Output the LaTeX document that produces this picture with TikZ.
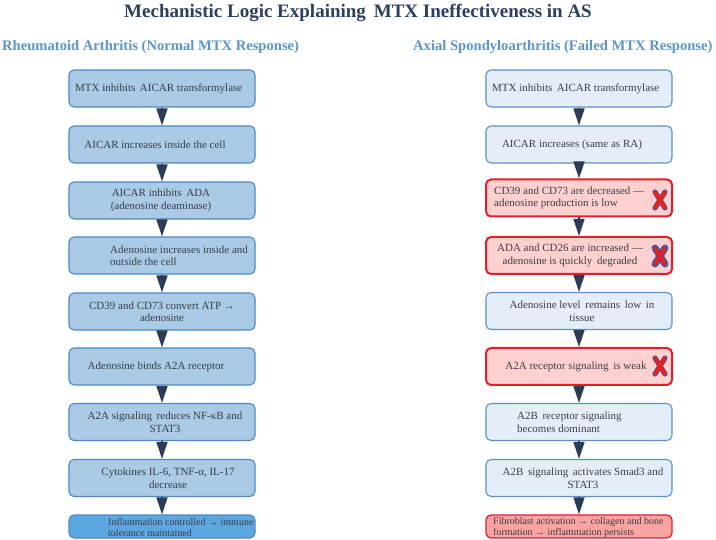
\documentclass[tikz,border=0pt]{standalone}
\usepackage{fontspec}
\setmainfont{Liberation Serif}
\usetikzlibrary{arrows.meta}
\definecolor{titlec}{HTML}{2B3F5E}
\definecolor{subc}{HTML}{5B95CB}
\definecolor{txt}{HTML}{3A3F47}
\definecolor{lfill}{HTML}{AACAE5}
\definecolor{lline}{HTML}{4F89C0}
\definecolor{lastfill}{HTML}{5DA7E0}
\definecolor{rfill}{HTML}{E4EEF8}
\definecolor{rline}{HTML}{5B93C9}
\definecolor{redfill}{HTML}{FFD0D0}
\definecolor{redline}{HTML}{E0202B}
\definecolor{redlast}{HTML}{F9A3A3}
\definecolor{arr}{HTML}{2B3D55}
\definecolor{xblue}{HTML}{3C5DA8}
\definecolor{xred}{HTML}{E8201E}
\tikzset{
  box/.style={rectangle, rounded corners=5pt, minimum width=186pt, minimum height=37pt, inner sep=0pt, line width=1.1pt},
  lbox/.style={box, draw=lline, fill=lfill},
  lastbox/.style={box, draw=lline, fill=lastfill, minimum height=23pt},
  rbox/.style={box, draw=rline, fill=rfill},
  redbox/.style={box, draw=redline, fill=redfill, line width=2pt},
  redlastbox/.style={box, draw=redline, fill=redlast, line width=1.3pt, minimum height=23pt},
  tx/.style={font=\fontsize{11}{12.5}\selectfont, text=txt, inner sep=0pt},
  txl/.style={tx, anchor=west, align=left},
  txc/.style={tx, align=center},
  txs/.style={font=\fontsize{10}{11}\selectfont, text=txt, inner sep=0pt, anchor=west, align=left},
  flow/.style={draw=arr, line width=1.5pt, -{Triangle[width=11pt,length=17pt]}},
  xcross/.pic={
    \draw[xblue, line width=\pgfkeysvalueof{/tikz/xout}, line cap=round] (-5,-8) -- (5,8) (5,-8) -- (-5,8);
    \draw[xred, line width=3.8pt, line cap=round] (-5,-8) -- (5,8) (5,-8) -- (-5,8);
  },
  xout/.initial=5.2pt
}
\begin{document}
\begin{tikzpicture}[x=1pt,y=-1pt]
\useasboundingbox (0,0) rectangle (716,540);
\fill[white] (0,0) rectangle (716,540);

\node[font=\bfseries\fontsize{19}{22}\selectfont, text=titlec] (title) at (358,13) {Mechanistic Logic Explaining\, MTX Ineffectiveness in AS};
\node[anchor=west, font=\bfseries\fontsize{14.6}{16}\selectfont, text=subc, inner sep=0pt] (subL) at (2,47) {Rheumatoid Arthritis (Normal MTX Response)};
\node[anchor=west, font=\bfseries\fontsize{14.6}{16}\selectfont, text=subc, inner sep=0pt] (subR) at (413,47) {Axial Spondyloarthritis (Failed MTX Response)};

% left column
\node[lbox] (L1) at (162,88.5) {};
\node[lbox] (L2) at (162,144.5) {};
\node[lbox] (L3) at (162,200.5) {};
\node[lbox] (L4) at (162,255.5) {};
\node[lbox] (L5) at (162,311.5) {};
\node[lbox] (L6) at (162,366.5) {};
\node[lbox] (L7) at (162,422) {};
\node[lbox] (L8) at (162,478) {};
\node[lastbox] (L9) at (162,526.5) {};

\node[txl] (L1t) at (75,88.5) {MTX inhibits\, AICAR transformylase};
\node[txc] (L2t) at (155,144.5) {AICAR increases inside the cell};
\node[txc] (L3t) at (161,200.5) {AICAR inhibits\, ADA\\(adenosine deaminase)};
\node[txl] (L4t) at (110,255.5) {Adenosine increases inside and\\outside the cell};
\node[txc] (L5t) at (162,311.5) {CD39 and CD73 convert ATP →\\adenosine};
\node[txc] (L6t) at (156,366.5) {Adenosine binds A2A receptor};
\node[txc] (L7t) at (165,422) {A2A signaling\, reduces NF-κB and\\STAT3};
\node[txc] (L8t) at (168,478) {Cytokines IL-6, TNF-α, IL-17\\decrease};
\node[txs] (L9t) at (108,527.5) {Inflammation controlled → immune\\tolerance maintained};

% right column
\node[rbox] (R1) at (579,88.5) {};
\node[rbox] (R2) at (579,144.5) {};
\node[redbox] (R3) at (579,198) {};
\node[redbox] (R4) at (579,255.5) {};
\node[rbox] (R5) at (579,311) {};
\node[redbox] (R6) at (579,366.5) {};
\node[rbox] (R7) at (579,422) {};
\node[rbox] (R8) at (579,478) {};
\node[redlastbox] (R9) at (579,526.5) {};

\node[txl] (R1t) at (492,88.5) {MTX inhibits\, AICAR transformylase};
\node[txc] (R2t) at (572,144.5) {AICAR increases (same as RA)};
\node[txl] (R3t) at (494,198) {CD39 and CD73 are decreased —\\adenosine production is low};
\node[txc] (R4t) at (570,255.5) {ADA and CD26 are increased —\\adenosine is quickly\, degraded};
\node[txc] (R5t) at (582,311) {Adenosine level\, remains\, low\, in\\tissue};
\node[txc] (R6t) at (576,366.5) {A2A receptor signaling\, is weak};
\node[txl] (R7t) at (517,422) {A2B\, receptor signaling\\becomes dominant};
\node[txc] (R8t) at (583,478) {A2B\, signaling\, activates Smad3 and\\STAT3};
\node[txs] (R9t) at (493,527.5) {Fibroblast activation → collagen and bone\\formation → inflammation persists};

\pic at (660,200) {xcross};
\pic[xout=7pt] at (660,256) {xcross};
\pic at (660,366) {xcross};

% arrows
\foreach \a/\b in {L1/L2,L2/L3,L3/L4,L4/L5,L5/L6,L6/L7,L7/L8,L8/L9,R1/R2,R2/R3,R3/R4,R4/R5,R5/R6,R6/R7,R7/R8,R8/R9}
  \draw[flow] (\a.south) -- (\b.north);
\end{tikzpicture}
\end{document}
